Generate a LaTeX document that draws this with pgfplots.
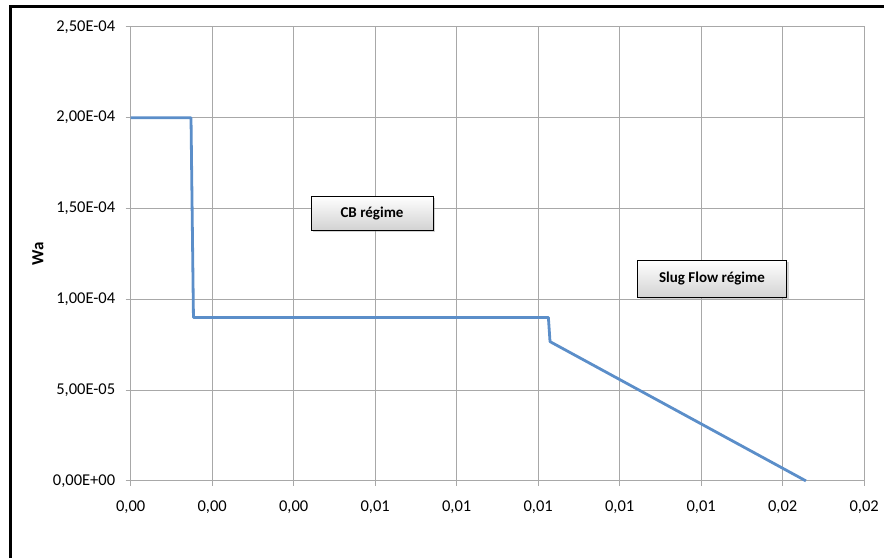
\documentclass[border=0pt]{standalone}
\usepackage{fontspec}
\setmainfont{Carlito}
\usepackage{pgfplots}
\pgfplotsset{compat=1.18}
\usetikzlibrary{shadows}
\definecolor{serblue}{RGB}{91,142,201}
\definecolor{gridgray}{RGB}{168,168,168}
\begin{document}
\begin{tikzpicture}[x=1pt,y=1pt]
\useasboundingbox (0,0) rectangle (884,558);
\draw[line width=3pt] (10.5,0) -- (10.5,551.3) -- (885,551.3);
\begin{axis}[
  at={(130.7pt,77.1pt)}, anchor=south west,
  scale only axis, width=733.5pt, height=454pt,
  xmin=0, xmax=0.018, ymin=0, ymax=2.5e-4,
  xtick={0,0.002,0.004,0.006,0.008,0.010,0.012,0.014,0.016,0.018},
  xticklabels={{0,00},{0,00},{0,00},{0,01},{0,01},{0,01},{0,01},{0,01},{0,02},{0,02}},
  ytick={0,5e-5,1e-4,1.5e-4,2e-4,2.5e-4},
  yticklabels={{0,00E+00},{5,00E-05},{1,00E-04},{1,50E-04},{2,00E-04},{2,50E-04}},
  scaled ticks=false,
  xtick pos=bottom, ytick pos=left,
  tick align=outside, major tick length=5pt,
  tick style={gridgray, line width=1pt},
  axis line style={gridgray, line width=1pt},
  grid=major, grid style={gridgray, line width=1pt},
  ticklabel style={font=\fontsize{16.5}{19}\selectfont, text=black},
  xticklabel style={yshift=-11pt},
  yticklabel style={xshift=-7pt},
  ylabel={\textbf{Wa}},
  ylabel style={at={(axis description cs:-0.1264,0.5)}, anchor=center, font=\fontsize{17}{20}\selectfont},
  clip=false,
]
\addplot[serblue, line width=2.8pt, line join=round] coordinates {
(0,2e-4) (0.00148,2e-4) (0.00154,9e-5) (0.01025,9e-5) (0.01029,7.67e-5) (0.01657,0)
};
\node[draw=black, line width=0.8pt, top color=white, bottom color=gray!35,
  drop shadow={shadow xshift=2pt, shadow yshift=-2pt, opacity=0.35},
  minimum width=122pt, minimum height=34pt, font=\fontsize{15}{18}\selectfont\bfseries]
  at (axis cs:0.005922,1.475e-4) {CB régime};
\node[draw=black, line width=0.8pt, top color=white, bottom color=gray!35,
  drop shadow={shadow xshift=2pt, shadow yshift=-2pt, opacity=0.35},
  minimum width=149pt, minimum height=37pt, font=\fontsize{15}{18}\selectfont\bfseries]
  at (axis cs:0.014265,1.112e-4) {Slug Flow régime};
\end{axis}
\end{tikzpicture}
\end{document}
